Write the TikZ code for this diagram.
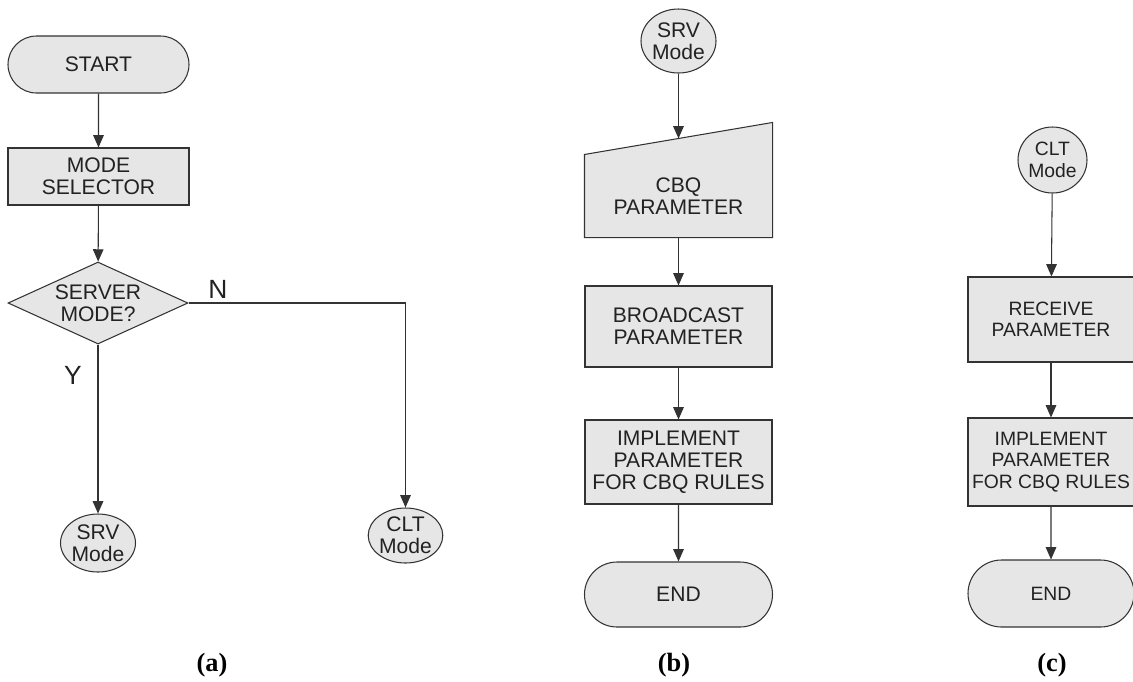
\documentclass[tikz,border=0pt]{standalone}
\usepackage{fontspec}
\setmainfont{Liberation Sans}
\newfontfamily\capfont{Liberation Serif}
\usetikzlibrary{shapes.geometric,shapes.misc,arrows.meta,backgrounds,calc}
\def\pxu{0.02cm}
\definecolor{boxfill}{HTML}{E6E6E6}
\definecolor{edge}{HTML}{333333}
\definecolor{ink}{HTML}{222222}
\tikzset{
  base/.style={draw=edge, fill=boxfill, text=ink, line width=0.6pt, align=center, inner sep=0pt,
    font=\fontsize{12}{12.4}\selectfont},
  small/.style={font=\fontsize{11}{12.2}\selectfont},
  procbox/.style={base, rectangle, minimum width=#1},
  procbox/.default={187*\pxu},
  term/.style={base, rounded rectangle, minimum width=#1},
  conn/.style={base, ellipse},
  decide/.style={base, diamond, aspect=2.2},
  arr/.style={draw=edge, line width=0.6pt, -{Triangle[width=6pt,length=7pt]}},
  yn/.style={text=ink, font=\fontsize{15}{15}\selectfont},
  sublabel/.style={text=black, font=\capfont\bfseries\fontsize{15}{15}\selectfont}
}
\begin{document}
\begin{tikzpicture}[x=0.02cm,y=-0.02cm]
\useasboundingbox (0,0) rectangle (1133,681);
% ---------- (a)
\node[term={181*\pxu}, minimum height=57*\pxu] (start) at (98.5,64.5) {START};
\node[procbox={181*\pxu}, minimum height=57*\pxu] (msel) at (98.5,176.5) {MODE\\SELECTOR};
\node[decide, minimum width=180*\pxu, minimum height=82*\pxu] (dec) at (98,303) {SERVER\\MODE?};
\node[conn, minimum width=75*\pxu, minimum height=58*\pxu] (srva) at (98,543) {SRV\\Mode};
\node[conn, minimum width=73*\pxu, minimum height=55*\pxu] (clta) at (405.5,535.5) {CLT\\Mode};
\node[yn] (nlab) at (218,289) {N};
\node[yn] (ylab) at (73,375) {Y};
\node[sublabel] (capa) at (212,665) {(a)};
\draw[arr] (start) -- (msel);
\draw[arr] (msel) -- (dec);
\draw[arr] (dec.south) -- (srva.north);
\draw[arr] (dec.east) -| (clta.north);
% ---------- (b)
\node[conn, minimum width=75*\pxu, minimum height=64*\pxu] (srvb) at (678.5,41) {SRV\\Mode};
\node[procbox, draw=none, fill=none, minimum height=82*\pxu] (cbq) at (678.5,196) {CBQ\\PARAMETER};
\begin{scope}[on background layer]
\draw[draw=edge, fill=boxfill, line width=0.6pt] (cbq.south west) -- (cbq.north west) -- ($(cbq.north east)+(0,-32)$) -- (cbq.south east) -- cycle;
\end{scope}
\coordinate (cbqtop) at ($(cbq.north)+(0,-16)$);
\node[procbox, minimum height=81*\pxu] (bcast) at (678.5,326.5) {BROADCAST\\PARAMETER};
\node[procbox, minimum height=84*\pxu] (impb) at (678.5,462) {IMPLEMENT\\PARAMETER\\FOR CBQ RULES};
\node[term={188*\pxu}, minimum height=65*\pxu] (endb) at (678.5,594.5) {END};
\node[sublabel] (capb) at (674,665) {(b)};
\draw[arr] (srvb) -- (cbqtop);
\draw[arr] (cbq) -- (bcast);
\draw[arr] (bcast) -- (impb);
\draw[arr] (impb) -- (endb);
% ---------- (c)
\node[conn, small, minimum width=69*\pxu, minimum height=66*\pxu] (cltc) at (1052.5,160) {CLT\\Mode};
\node[procbox={166*\pxu}, small, minimum height=85*\pxu] (recv) at (1051,319.5) {RECEIVE\\PARAMETER};
\node[procbox={166*\pxu}, small, minimum height=88*\pxu] (impc) at (1051,462) {IMPLEMENT\\PARAMETER\\FOR CBQ RULES};
\node[term={166*\pxu}, small, minimum height=67*\pxu] (endc) at (1051,593.5) {END};
\node[sublabel] (capc) at (1052,665) {(c)};
\draw[arr] (cltc) -- (recv);
\draw[arr] (recv) -- (impc);
\draw[arr] (impc) -- (endc);
\end{tikzpicture}
\end{document}
